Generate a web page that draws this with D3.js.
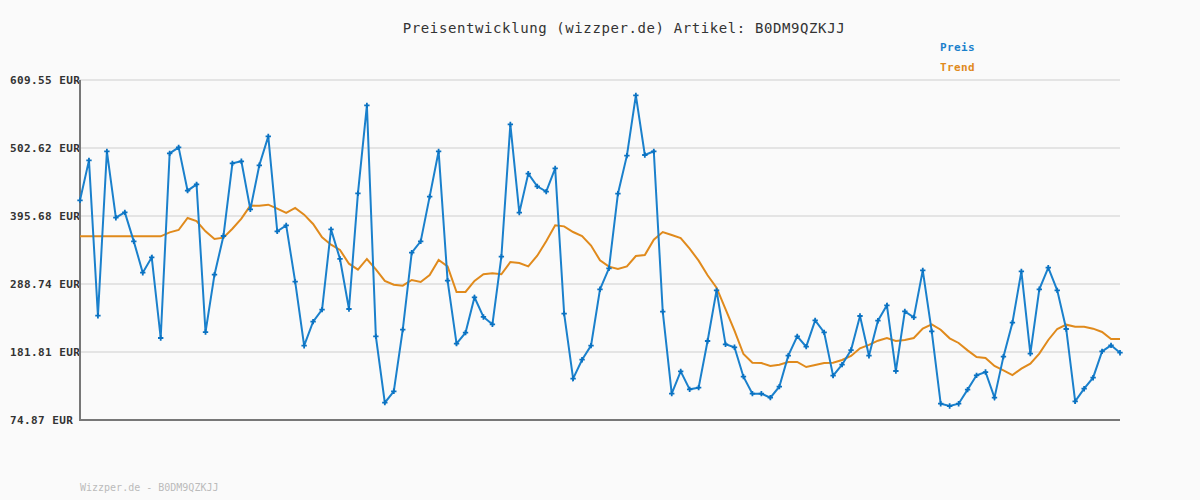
<!DOCTYPE html>
<html>
<head>
<meta charset="utf-8">
<script src="https://cdn.jsdelivr.net/npm/d3@7"></script>
<style>
  body { margin: 0; background: #fafafa; }
  svg { display: block; font-family: "DejaVu Sans Mono", monospace; }
</style>
</head>
<body>
<svg id="svg" width="1200" height="500"></svg>
<script>
var preis = [420.3,483.2,238.9,497.4,393.0,401.4,355.8,306.5,330.7,203.8,
  494.2,503.7,435.5,445.5,213.2,303.4,364.2,478.5,481.7,406.0,
  475.4,520.9,371.6,381.0,292.4,191.7,229.5,248.4,374.7,328.1,
  249.4,431.3,569.7,206.4,102.1,120.0,216.9,338.0,355.8,426.1,
  497.4,294.0,194.9,212.2,267.8,236.9,225.3,331.7,539.8,400.9,
  462.3,442.3,434.0,470.6,242.1,139.9,169.7,191.8,280.4,313.4,
  430.8,490.6,585.4,491.6,497.4,245.2,116.3,151.4,123.1,125.7,
  199.1,278.8,193.9,189.2,143.0,116.3,116.3,110.0,127.3,176.0,
  206.4,190.2,231.6,212.7,144.6,161.9,184.9,238.4,176.0,231.0,
  255.2,151.9,245.7,236.3,310.2,214.3,100.5,96.9,100.5,122.6,
  145.1,150.3,110.0,174.5,227.9,308.6,179.2,280.4,314.4,278.8,
  218.0,104.2,124.1,141.4,182.8,192.3,180.7];

var trend = [363.7,363.7,363.7,363.7,363.7,363.7,363.7,363.7,363.7,363.7,
  370.0,373.7,392.5,387.8,371.6,359.5,361.6,375.7,391.5,412.0,
  411.9,413.5,407.2,400.4,408.3,397.8,383.1,362.1,350.6,342.2,
  320.7,311.3,328.1,311.8,293.5,287.7,286.1,295.0,291.9,302.9,
  326.5,316.5,276.2,276.2,293.5,304.0,305.5,304.0,323.4,321.8,
  316.5,333.3,355.8,381.0,379.4,370.5,364.2,349.3,326.0,316.0,
  312.3,316.5,332.8,334.4,358.5,370.5,365.8,361.1,344.3,325.5,
  302.4,283.0,249.4,215.3,178.6,165.0,164.5,159.8,161.9,166.1,
  166.1,158.2,161.4,164.5,165.0,169.2,175.5,187.6,192.9,199.6,
  203.8,199.1,200.7,203.8,218.5,225.3,216.9,203.3,196.0,184.4,
  173.9,172.4,159.8,153.0,145.6,155.6,163.5,179.2,200.7,218.0,
  224.8,221.6,221.6,218.5,213.3,202.3,202.3];

var yTicks = [74.87, 181.81, 288.74, 395.68, 502.62, 609.55];
var titel = "Preisentwicklung (wizzper.de) Artikel: B0DM9QZKJJ";
var fuss = "Wizzper.de - B0DM9QZKJJ";

var blau = "#1a80cc";
var orange = "#e08a1c";

var cont = d3.select("svg");

var x = d3.scaleLinear().domain([0, preis.length - 1]).range([80, 1120]);
var y = d3.scaleLinear().domain([74.87, 609.55]).range([420, 80]);

// gridlines
cont.selectAll("line.grid").data(yTicks.slice(1)).enter()
  .append("line")
  .attr("x1", 80).attr("x2", 1120)
  .attr("y1", function(d) { return y(d); })
  .attr("y2", function(d) { return y(d); })
  .attr("stroke", "#e4e4e4")
  .attr("stroke-width", 2);

// y labels
cont.selectAll("text.ylab").data(yTicks).enter()
  .append("text")
  .attr("x", 10)
  .attr("y", function(d) { return y(d) + 4; })
  .attr("font-size", 11)
  .attr("font-weight", "bold")
  .attr("letter-spacing", 0.4)
  .attr("fill", "#333")
  .text(function(d) { return d.toFixed(2) + " EUR"; });

// axes
cont.append("line").attr("x1", 80).attr("x2", 80).attr("y1", 80).attr("y2", 421)
  .attr("stroke", "#777").attr("stroke-width", 2);
cont.append("line").attr("x1", 79).attr("x2", 1120).attr("y1", 420).attr("y2", 420)
  .attr("stroke", "#777").attr("stroke-width", 2);

// trend line
var line = d3.line()
  .x(function(d, i) { return x(i); })
  .y(function(d) { return y(d); });

cont.append("path").datum(trend)
  .attr("d", line)
  .attr("fill", "none")
  .attr("stroke", orange)
  .attr("stroke-width", 2);

// preis line
cont.append("path").datum(preis)
  .attr("d", line)
  .attr("fill", "none")
  .attr("stroke", blau)
  .attr("stroke-width", 2);

// markers
cont.selectAll("path.pt").data(preis).enter()
  .append("path")
  .attr("d", d3.symbol().type(d3.symbolCross).size(16))
  .attr("transform", function(d, i) { return "translate(" + x(i) + "," + y(d) + ")"; })
  .attr("fill", "#0a72c2");

// title
cont.append("text")
  .attr("x", 624).attr("y", 33)
  .attr("text-anchor", "middle")
  .attr("font-size", 14)
  .attr("letter-spacing", 0.6)
  .attr("fill", "#333")
  .text(titel);

// legend
cont.append("text").attr("x", 940).attr("y", 51)
  .attr("font-size", 11).attr("font-weight", "bold").attr("letter-spacing", 0.4)
  .attr("fill", blau).text("Preis");
cont.append("text").attr("x", 940).attr("y", 71)
  .attr("font-size", 11).attr("font-weight", "bold").attr("letter-spacing", 0.4)
  .attr("fill", orange).text("Trend");

// footer
cont.append("text").attr("x", 80).attr("y", 491)
  .attr("font-size", 10)
  .attr("fill", "#bbb")
  .text(fuss);
</script>
</body>
</html>
